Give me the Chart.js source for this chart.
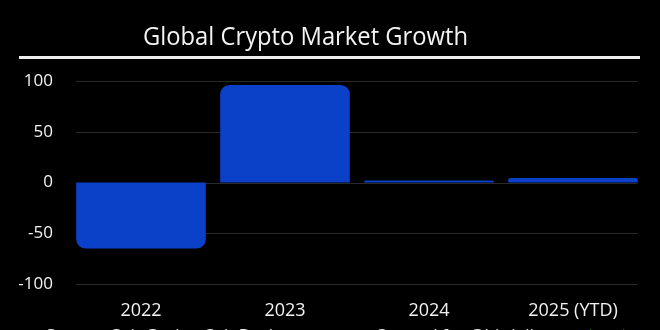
<!DOCTYPE html>
<html>
<head>
<meta charset="utf-8">
<style>
  html, body { margin: 0; padding: 0; background: #000; }
  #wrap { width: 660px; height: 330px; position: relative; }
</style>
<script src="https://cdn.jsdelivr.net/npm/chart.js@4/dist/chart.umd.min.js"></script>
</head>
<body>
<div id="wrap"><canvas id="c" width="660" height="330"></canvas></div>
<script>
// Yearly change of the total crypto market cap, in percent
const years = ['2022', '2023', '2024', '2025 (YTD)'];
const growth = [-65, 96, 2, 4.5];
const yTicks = [-100, -50, 0, 50, 100];

const titleText = 'Global Crypto Market Growth';
const sourceText = 'Source: CoinGecko, CoinDesk';
const creditText = 'Created for @bitdaily';

const BAR_BLUE = '#0b40c8';
const GRID = '#2a2a2a';
const FONT = '"Open Sans", "Noto Sans", sans-serif';

// Horizontal guide lines, spanning only the bars' extent
const gridLines = {
  id: 'gridLines',
  beforeDatasetsDraw(chart) {
    const { ctx } = chart;
    const y = chart.scales.y;
    const bars = chart.getDatasetMeta(0).data;
    const x0 = bars[0].x - bars[0].width / 2;
    const x1 = bars[bars.length - 1].x + bars[bars.length - 1].width / 2;
    ctx.save();
    ctx.strokeStyle = GRID;
    ctx.lineWidth = 1;
    yTicks.forEach(v => {
      const py = Math.round(y.getPixelForValue(v)) + 0.5;
      ctx.beginPath();
      ctx.moveTo(x0, py);
      ctx.lineTo(x1, py);
      ctx.stroke();
    });
    ctx.restore();
  }
};

// Heading, rule under it, and the footer line
const frame = {
  id: 'frame',
  afterDraw(chart) {
    const { ctx } = chart;
    ctx.save();
    // heading, set narrow like a condensed face
    ctx.font = '26px ' + FONT;
    ctx.fillStyle = '#f4f4f4';
    ctx.textBaseline = 'alphabetic';
    const w = ctx.measureText(titleText).width;
    const target = 325;
    ctx.translate(143, 44.5);
    ctx.scale(target / w, 1);
    ctx.fillText(titleText, 0, 0);
    ctx.setTransform(1, 0, 0, 1, 0, 0);
    // rule
    ctx.fillStyle = '#eeeeee';
    ctx.fillRect(19, 56, 621, 3);
    // footer
    ctx.font = '17px ' + FONT;
    ctx.fillStyle = '#e8e8e8';
    ctx.fillText(sourceText, 46, 341);
    ctx.fillText(creditText, 375, 341);
    // badge outline
    ctx.strokeStyle = '#62a820';
    ctx.lineWidth = 2;
    ctx.beginPath();
    ctx.arc(607, 352, 27, Math.PI * 1.1, Math.PI * 1.3);
    ctx.stroke();
    ctx.beginPath();
    ctx.arc(607, 352, 27, Math.PI * 1.7, Math.PI * 1.9);
    ctx.stroke();
    ctx.restore();
  }
};

new Chart(document.getElementById('c'), {
  type: 'bar',
  data: {
    labels: years,
    datasets: [{
      data: growth,
      backgroundColor: BAR_BLUE,
      borderRadius: 9,
      borderSkipped: 'start',
      barPercentage: 0.9,
      categoryPercentage: 1.0
    }]
  },
  options: {
    responsive: false,
    animation: false,
    devicePixelRatio: 1,
    layout: { padding: { top: 81, right: 15, left: 0, bottom: 0 } },
    plugins: {
      legend: { display: false },
      tooltip: { enabled: false },
      title: { display: false }
    },
    scales: {
      x: {
        offset: true,
        grid: { display: false },
        border: { display: false },
        ticks: {
          color: '#f2f2f2',
          font: { family: FONT, size: 18 },
          padding: 8,
          maxRotation: 0
        },
        afterFit(scale) { scale.height = 46; }
      },
      y: {
        min: -100,
        max: 100,
        grid: { display: false },
        border: { display: false },
        afterBuildTicks(scale) { scale.ticks = yTicks.map(v => ({ value: v })); },
        ticks: {
          color: '#f2f2f2',
          font: { family: FONT, size: 17 },
          padding: 8
        },
        afterFit(scale) { scale.width = 69; }
      }
    }
  },
  plugins: [gridLines, frame]
});
</script>
</body>
</html>
